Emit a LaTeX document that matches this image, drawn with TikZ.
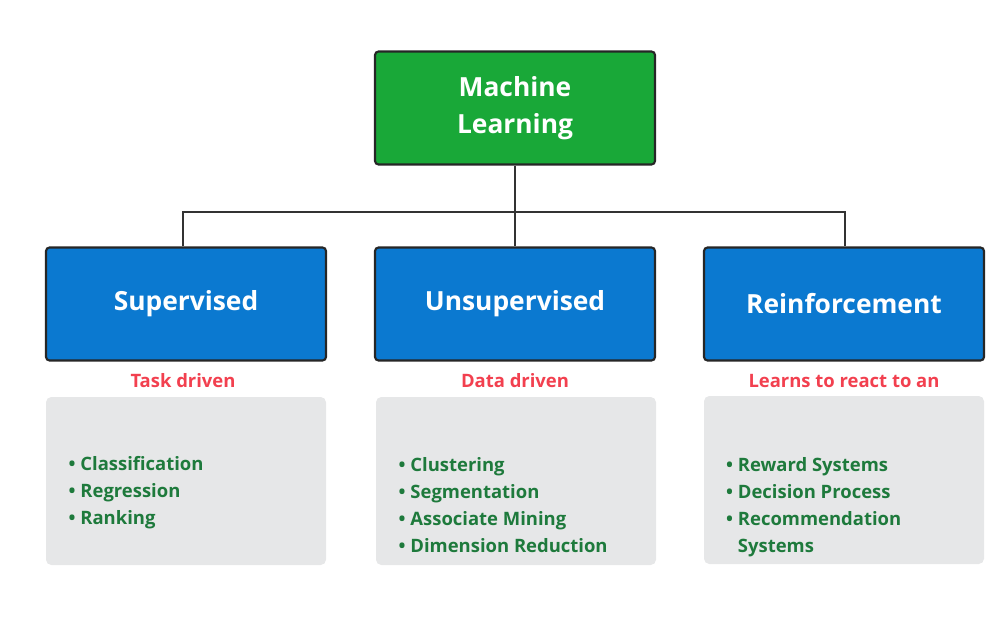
\documentclass[tikz,border=0pt]{standalone}
\usepackage{fontspec}
\setmainfont{Open Sans}
\usetikzlibrary{positioning}
\definecolor{mlgreen}{HTML}{19A838}
\definecolor{mlblue}{HTML}{0B79D0}
\definecolor{mlred}{HTML}{F2404F}
\definecolor{mlgrey}{HTML}{E6E7E8}
\definecolor{mltext}{HTML}{1E7A3C}
\tikzset{
	topbox/.style={draw=black!85, line width=1.2pt, rounded corners=2pt, fill=mlgreen, text=white, minimum width=5.6cm, minimum height=2.26cm, align=center, font=\bfseries\fontsize{15}{21}\selectfont},
	catbox/.style={draw=black!85, line width=1.2pt, rounded corners=2pt, fill=mlblue, text=white, minimum width=5.6cm, minimum height=2.26cm, font=\bfseries\fontsize{15}{18}\selectfont},
	note/.style={text=mlred, align=center, font=\bfseries\fontsize{10.5}{15}\selectfont},
	listbox/.style={fill=mlgrey, rounded corners=3pt, minimum width=5.6cm, minimum height=3.36cm, text=mltext, align=left, text width=5.0cm, font=\bfseries\fontsize{10.5}{15.5}\selectfont},
}
\begin{document}
\begin{tikzpicture}
	\useasboundingbox (0,0) rectangle (19.98,12.38);
	\node (ml) [topbox] at (10.30,10.22) {Machine\\Learning};
	
	\node (sup) [catbox] at (3.72,6.30) {Supervised};
	\node (uns) [catbox] at (10.30,6.30) {Unsupervised};
	\node (rei) [catbox] at (16.88,6.30) {Reinforcement};
	
	\node (tsup) [note] at (3.66,4.76) {Task driven};
	\node (tuns) [note] at (10.30,4.76) {Data driven};
	\node (trei) [note] at (16.88,4.50) {Learns to react to an\\environment};
	
	\node (lsup) [listbox] at (3.72,2.76) {};
	\node (luns) [listbox] at (10.32,2.76) {};
	\node (lrei) [listbox] at (16.88,2.78) {};
	
	\node [text=mltext, font=\bfseries\fontsize{10.5}{15.5}\selectfont, anchor=north west, align=left] at (1.25,3.38)
		{• Classification\\• Regression\\• Ranking};
	\node [text=mltext, font=\bfseries\fontsize{10.5}{15.5}\selectfont, anchor=north west, align=left] at (7.85,3.36)
		{• Clustering\\• Segmentation\\• Associate Mining\\• Dimension Reduction};
	\node [text=mltext, font=\bfseries\fontsize{10.5}{15.5}\selectfont, anchor=north west, align=left] at (14.40,3.36)
		{• Reward Systems\\• Decision Process\\• Recommendation\\\phantom{• }Systems};
	
	\coordinate (bus) at (10.30,8.14);
	\begin{scope}[line width=0.6pt, black!80]
		\draw (ml) -- (bus);
		\draw (sup.north -| 3.66,0) |- (bus) -| (rei.north -| 16.90,0);
		\draw (bus) -- (uns);
	\end{scope}
\end{tikzpicture}
\end{document}
